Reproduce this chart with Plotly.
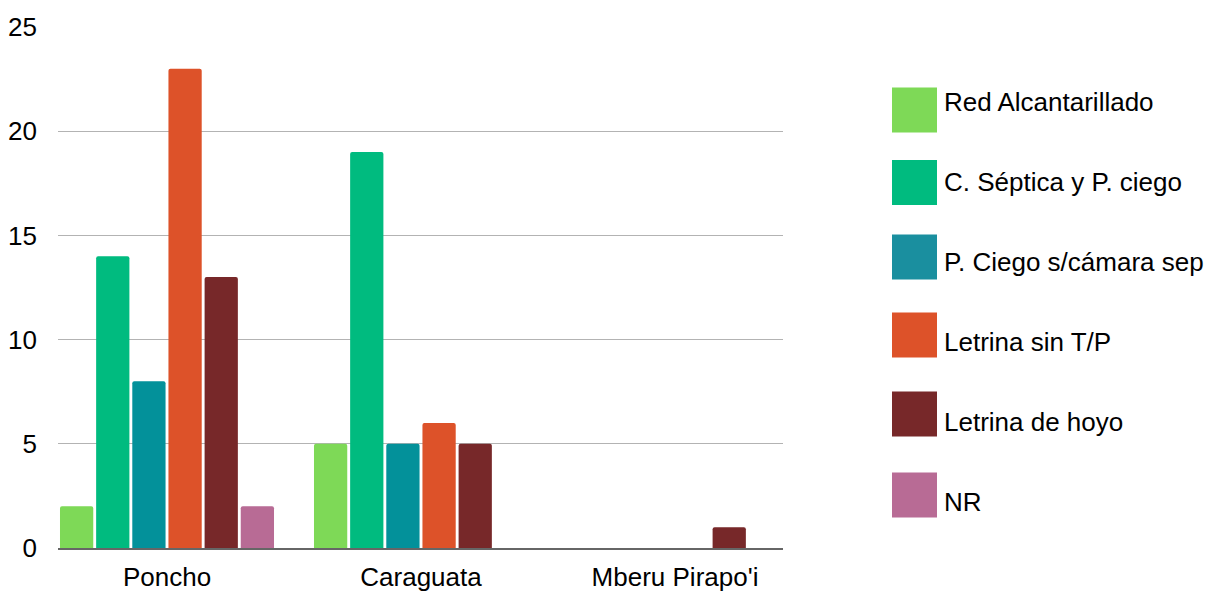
import plotly.graph_objects as go

categories = ["Poncho", "Caraguata", "Mberu Pirapo'i"]
series_names = ["Red Alcantarillado", "C. Séptica y P. ciego", "P. Ciego s/cámara sep",
                "Letrina sin T/P", "Letrina de hoyo", "NR"]
red_alcantarillado = [2, 5, 0]
septica_pciego = [14, 19, 0]
pciego_sin_camara = [8, 5, 0]
letrina_sin_tp = [23, 6, 0]
letrina_hoyo = [13, 5, 1]
nr = [2, 0, 0]
y_ticks = [0, 5, 10, 15, 20, 25]

series_values = [red_alcantarillado, septica_pciego, pciego_sin_camara,
                 letrina_sin_tp, letrina_hoyo, nr]
colors = ["#7ed957", "#00bb7f", "#03919a", "#dd5229", "#772829", "#b86b95"]
legend_colors = ["#7ed957", "#00bb7f", "#1a8f9f", "#dd5229", "#772829", "#b86b95"]

W, H = 1217, 592
L, R, T, B = 58, 434, 27, 44
pw, ph = W - L - R, H - T - B

x_pos = list(range(len(categories)))
fig = go.Figure()
for name, vals, col in zip(series_names, series_values, colors):
    fig.add_trace(go.Bar(x=x_pos, y=vals, name=name, marker_color=col,
                         marker_line_width=0, marker_cornerradius=2, showlegend=False,
                         hoverinfo="skip"))

# custom legend with large swatches (pixel positions in the page)
swatch_centers_px = [110, 182.5, 257, 335, 414, 495]
text_centers_px = [101, 181, 261, 341, 421, 501]
sw = 45
shapes = []
annotations = []
for name, col, cy, ty in zip(series_names, legend_colors, swatch_centers_px, text_centers_px):
    x0 = (892 - L) / pw
    x1 = (892 + sw - L) / pw
    y0 = (H - B - (cy + sw / 2)) / ph
    y1 = (H - B - (cy - sw / 2)) / ph
    shapes.append(dict(type="rect", xref="paper", yref="paper", x0=x0, x1=x1, y0=y0, y1=y1,
                       fillcolor=col, line_width=0, layer="above"))
    annotations.append(dict(xref="paper", yref="paper", x=(942 - L) / pw,
                            y=(H - B - (ty + 1)) / ph, text=name, showarrow=False,
                            xanchor="left", yanchor="middle",
                            font=dict(family="Liberation Sans", size=26, color="#000000")))

px_per_cat = 254.0
center0 = 167.0
fig.update_layout(
    width=W, height=H, autosize=False,
    margin=dict(l=L, r=R, t=T, b=B, pad=0, autoexpand=False),
    paper_bgcolor="white", plot_bgcolor="white",
    barmode="group", bargap=0.146, bargroupgap=0.08,
    font=dict(family="Liberation Sans", size=26, color="#000000"),
    shapes=shapes, annotations=annotations,
    xaxis=dict(range=[(L - center0) / px_per_cat, (L + pw - center0) / px_per_cat],
               tickmode="array", tickvals=x_pos, ticktext=categories, automargin=False,
               showgrid=False, zeroline=False, showline=True, linecolor="#666666",
               linewidth=2, ticks="", ticklabelstandoff=5,
               tickfont=dict(family="Liberation Sans", size=26, color="#000000")),
    yaxis=dict(range=[0, 25], tickmode="array", tickvals=y_ticks, automargin=False,
               showgrid=True, gridcolor="#b3b3b3", gridwidth=1, zeroline=False,
               showline=False, ticks="", ticklabelstandoff=20,
               tickfont=dict(family="Liberation Sans", size=26, color="#000000")),
)

fig.write_html("out.html",
               config={"displayModeBar": False},
               post_script="document.body.style.margin='0';document.body.style.overflow='hidden';")
